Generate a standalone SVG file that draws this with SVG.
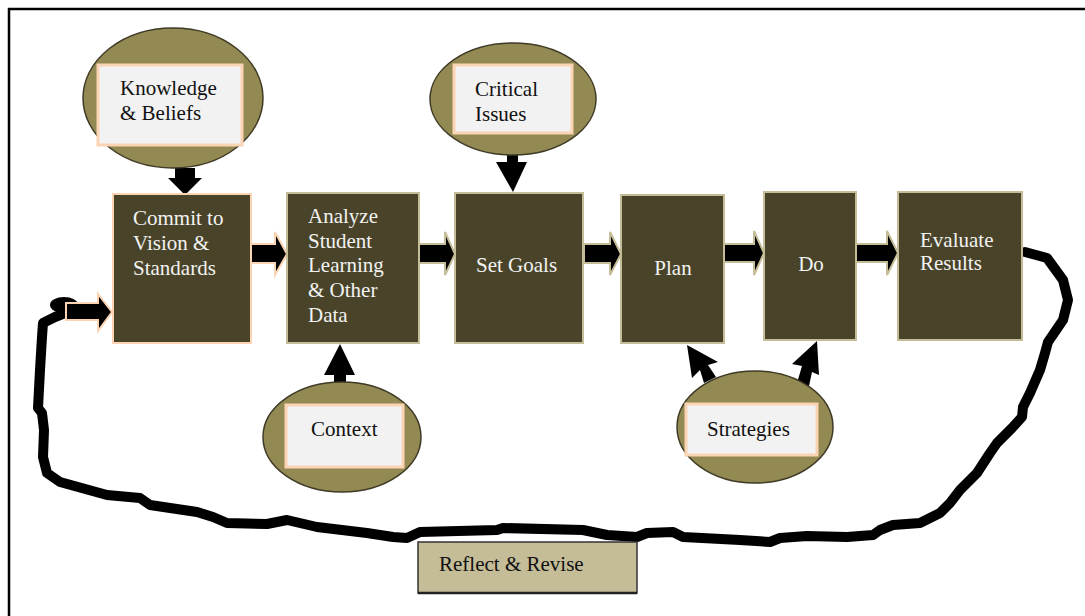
<svg xmlns="http://www.w3.org/2000/svg" width="1085" height="616" viewBox="0 0 1085 616">
<style>
.ell{fill:#938953;stroke:#3f3a26;stroke-width:1.5}
.lbl{fill:#f2f2f2;stroke:#fbd4b4;stroke-width:3}
.box{fill:#494429;stroke:#c4bd97;stroke-width:2}
.boxp{fill:#494429;stroke:#fbd4b4;stroke-width:2}
.tw{font-size:21px;fill:#f2f2f2}
.tb{font-size:21px;fill:#111}
.arr{fill:#000;stroke:#c4bd97;stroke-width:2}
.arrp{fill:#000;stroke:#fbd4b4;stroke-width:2}
.blk{fill:#000}
.loop{fill:none;stroke:#000;stroke-width:10;stroke-linejoin:round;stroke-linecap:round}
</style>
<rect width="1085" height="616" fill="#fff"/>
<path d="M9 616 V9 H1085" fill="none" stroke="#000" stroke-width="2.5"/>

<g id="connectors">
<polygon class="blk" points="175,168 195,168 195,178 202,178 185,195 168,178 175,178"/>
<polygon class="blk" points="507,155 518,155 518,162 527,162 513,192 496,162 507,162"/>
<polygon class="blk" points="334,383 346,383 346,375 355,375 340,344 324,375 334,375"/>
<polygon class="arrp" points="242,244 275,244 275,232 287,254 275,275 275,263 242,263"/>
<polygon class="arr" points="419,244 445,244 445,232 455,254 445,275 445,263 419,263"/>
<polygon class="arr" points="584,244 610,244 610,232 621,254 610,275 610,263 584,263"/>
<polygon class="arr" points="724,244 754,244 754,231 764,253 754,275 754,262 724,262"/>
<polygon class="arr" points="856,244 887,244 887,231 898,253 887,275 887,262 856,262"/>
<polygon class="blk" points="704,383 716,377 708,365 718,362 687,345 692,378 700,370"/>
<polygon class="blk" points="797,383 809,386 812,372 819,375 817,341 792,364 802,366"/>
<path class="loop" d="M1025,252 L1047,258 L1063,280 L1068,300 L1063,320 L1048,342 L1045,353 L1040,370 L1030,393 L1023,407 L1022,417 L1012,428 L997,443 L990,453 L977,473 L960,490 L950,503 L940,513 L920,523 L893,525 L880,530 L873,535 L847,537 L807,536 L780,538 L770,542 L740,540 L683,537 L673,532 L647,533 L637,537 L607,535 L583,530 L503,528 L497,530 L420,532 L407,538 L393,537 L367,533 L317,527 L287,520 L267,524 L227,523 L213,517 L197,512 L150,505 L140,498 L107,495 L60,482 L47,473 L43,457 L44,430 L42,413 L38,408 L40,370 L42,337 L43,323 L55,317 L65,313"/>
<ellipse cx="64" cy="305" rx="14" ry="8" fill="#000"/>
<polygon class="arrp" points="66,303 98,303 98,294 112,312 98,331 98,320 66,320"/>
</g>

<g font-family="'Liberation Serif', 'Times New Roman', 'DejaVu Serif', serif">
<g id="knowledge">
<ellipse class="ell" cx="173" cy="98" rx="90" ry="70"/>
<rect class="lbl" x="98" y="65" width="144" height="80"/>
<text class="tb" x="120" y="95">Knowledge</text>
<text class="tb" x="120" y="120">&amp; Beliefs</text>
</g>

<g id="critical">
<ellipse class="ell" cx="513" cy="99" rx="83" ry="56"/>
<rect class="lbl" x="454" y="65" width="118" height="68"/>
<text class="tb" x="475" y="96">Critical</text>
<text class="tb" x="475" y="121">Issues</text>
</g>

<g id="context">
<ellipse class="ell" cx="342" cy="437" rx="79" ry="55"/>
<rect class="lbl" x="286" y="405" width="117" height="62"/>
<text class="tb" x="311" y="436">Context</text>
</g>

<g id="strategies">
<ellipse class="ell" cx="755" cy="427" rx="78" ry="56"/>
<rect class="lbl" x="686" y="404" width="131" height="51"/>
<text class="tb" x="707" y="436">Strategies</text>
</g>

<g id="commit">
<rect class="boxp" x="113" y="194" width="138" height="149"/>
<text class="tw" x="133" y="225">Commit to</text>
<text class="tw" x="133" y="250">Vision &amp;</text>
<text class="tw" x="133" y="275">Standards</text>
</g>

<g id="analyze">
<rect class="box" x="287" y="193" width="132" height="150"/>
<text class="tw" x="308" y="223">Analyze</text>
<text class="tw" x="308" y="248">Student</text>
<text class="tw" x="308" y="272">Learning</text>
<text class="tw" x="308" y="297">&amp; Other</text>
<text class="tw" x="308" y="322">Data</text>
</g>

<g id="setgoals">
<rect class="box" x="455" y="193" width="128" height="150"/>
<text class="tw" x="476" y="272">Set Goals</text>
</g>

<g id="plan">
<rect class="box" x="621" y="195" width="103" height="148"/>
<text class="tw" x="673" y="275" text-anchor="middle">Plan</text>
</g>

<g id="do">
<rect class="box" x="764" y="192" width="92" height="148"/>
<text class="tw" x="811" y="271" text-anchor="middle">Do</text>
</g>

<g id="evaluate">
<rect class="box" x="898" y="192" width="124" height="148"/>
<text class="tw" x="920" y="247">Evaluate</text>
<text class="tw" x="920" y="270">Results</text>
</g>

<g id="reflect">
<rect x="418" y="542" width="219" height="51" fill="#c4bd97" stroke="#333" stroke-width="1.5"/>
<line x1="418" y1="593" x2="637" y2="593" stroke="#222" stroke-width="2.5"/>
<text class="tb" x="439" y="571">Reflect &amp; Revise</text>
</g>
</g>
</svg>
